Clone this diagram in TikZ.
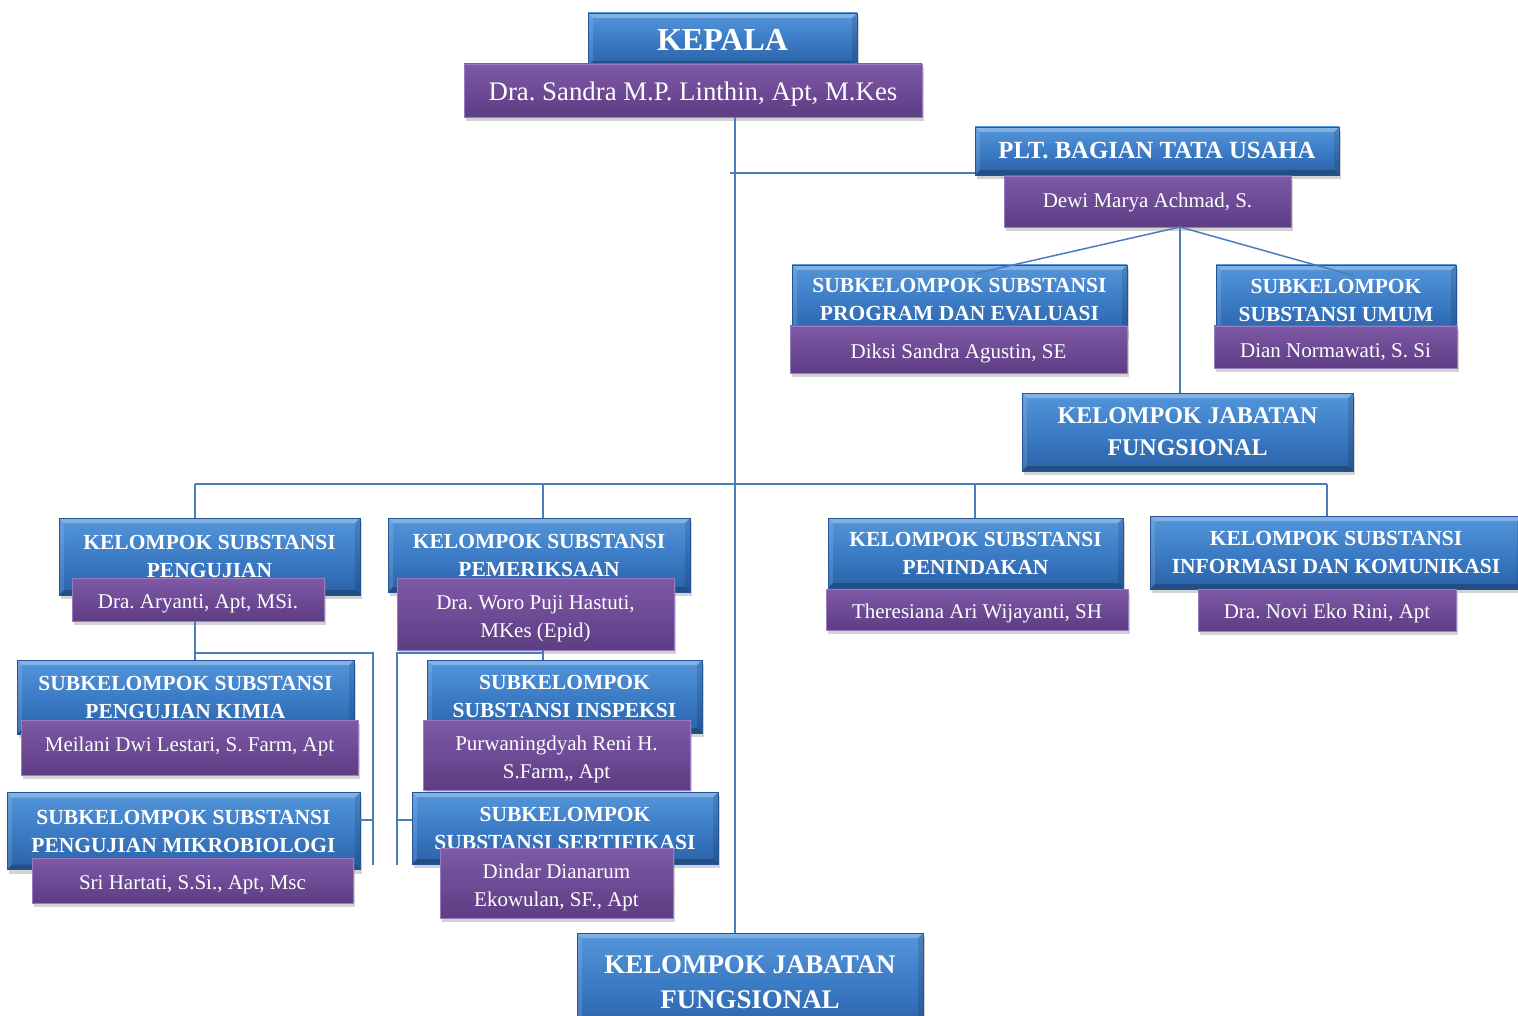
\documentclass[tikz,border=0pt]{standalone}
\usepackage{fontspec}
\setmainfont{Liberation Serif}
\usetikzlibrary{shadows}
\frenchspacing

\definecolor{biruatas}{RGB}{84,150,218}
\definecolor{birutengah}{RGB}{60,124,198}
\definecolor{birubawah}{RGB}{42,98,168}
\definecolor{birutepi}{RGB}{36,84,148}
\definecolor{unguatas}{RGB}{127,89,167}
\definecolor{ungubawah}{RGB}{93,61,131}
\definecolor{ungutepi}{RGB}{152,124,192}
\definecolor{garis}{RGB}{74,126,187}

\newcommand{\huruf}[2]{\fontsize{#1}{#2}\selectfont}
\newcommand{\bevelkotak}{%
  \fill[white,opacity=.28] (path picture bounding box.north west) -- (path picture bounding box.north east)
    -- ([shift={(-5pt,-5pt)}]path picture bounding box.north east) -- ([shift={(5pt,-5pt)}]path picture bounding box.north west) -- cycle;
  \fill[white,opacity=.12] (path picture bounding box.north west) -- ([shift={(5pt,-5pt)}]path picture bounding box.north west)
    -- ([shift={(5pt,5pt)}]path picture bounding box.south west) -- (path picture bounding box.south west) -- cycle;
  \fill[black,opacity=.12] (path picture bounding box.north east) -- ([shift={(-5pt,-5pt)}]path picture bounding box.north east)
    -- ([shift={(-5pt,5pt)}]path picture bounding box.south east) -- (path picture bounding box.south east) -- cycle;
  \fill[black,opacity=.22] (path picture bounding box.south west) -- (path picture bounding box.south east)
    -- ([shift={(-5pt,5pt)}]path picture bounding box.south east) -- ([shift={(5pt,5pt)}]path picture bounding box.south west) -- cycle;}

\begin{document}
\frenchspacing
\begin{tikzpicture}[x=1pt,y=-1pt, ukuran/.style 2 args={minimum width=#1pt,minimum height=#2pt}]
\clip (0,0) rectangle (1518,1016);
\begin{scope}
	\tikzstyle{jabatan}=[draw=birutepi, line width=0.8pt, top color=biruatas, bottom color=birubawah, middle color=birutengah, text=white, align=center, inner sep=0pt, font=\bfseries\huruf{21.5}{28}, drop shadow={shadow xshift=2pt, shadow yshift=-4pt, opacity=.35}, path picture={\bevelkotak}]
	\tikzstyle{pejabat}=[draw=ungutepi, line width=0.8pt, top color=unguatas, bottom color=ungubawah, text=white, align=center, inner sep=0pt, font=\huruf{21}{28}, text height=22pt, text depth=4.2pt, drop shadow={shadow xshift=2pt, shadow yshift=-4pt, opacity=.35}]
	\tikzstyle{pejabatdua}=[pejabat, text height=50pt, text depth=4pt]
	\tikzstyle{hubung}=[draw=garis, line width=1.5pt]

	% kepala
	\node[jabatan, ukuran={269}{53}, font=\bfseries\huruf{32}{36}] (kepala) at (722.5,39.5) {KEPALA};
	\node[pejabat, ukuran={458}{53}, font=\huruf{26.8}{32}, text height=25pt, text depth=4.4pt] (kepalaNm) at (693,90.5) {Dra. Sandra M.P. Linthin, Apt, M.Kes};

	% tata usaha
	\node[jabatan, ukuran={364}{48}, font=\bfseries\huruf{24.7}{28}] (tu) at (1157,151) {PLT. BAGIAN TATA USAHA};
	\node[pejabat, ukuran={287}{51}, text depth=10.2pt] (tuNm) at (1147.5,201.5) {Dewi Marya Achmad, S.};
	\node[jabatan, ukuran={335}{70}] (prog) at (959.5,300) {SUBKELOMPOK SUBSTANSI\\PROGRAM DAN EVALUASI};
	\node[pejabat, ukuran={337}{47}] (progNm) at (958.5,349.5) {Diksi Sandra Agustin, SE};
	\node[jabatan, ukuran={240}{70}] (umum) at (1336,300) {SUBKELOMPOK\\SUBSTANSI UMUM};
	\node[pejabat, ukuran={243}{42}, text depth=1pt] (umumNm) at (1335.5,347) {Dian Normawati, S. Si};
	\node[jabatan, ukuran={331}{78}, font=\bfseries\huruf{24}{32}] (jfTU) at (1187.5,432) {KELOMPOK JABATAN\\FUNGSIONAL};

	% kelompok substansi
	\node[jabatan, ukuran={301}{77}] (uji) at (209.5,556.5) {KELOMPOK SUBSTANSI\\PENGUJIAN};
	\node[pejabat, ukuran={252}{43}] (ujiNm) at (198,599.5) {Dra. Aryanti, Apt, MSi.};
	\node[jabatan, ukuran={302}{74}] (periksa) at (539,555) {KELOMPOK SUBSTANSI\\PEMERIKSAAN};
	\node[pejabatdua, ukuran={277}{72}] (periksaNm) at (535.5,614) {Dra. Woro Puji Hastuti,\\MKes (Epid)};
	\node[jabatan, ukuran={295}{70}] (tindak) at (975.5,553) {KELOMPOK SUBSTANSI\\PENINDAKAN};
	\node[pejabat, ukuran={302}{41}] (tindakNm) at (977,609.5) {Theresiana Ari Wijayanti, SH};
	\node[jabatan, ukuran={372}{73}] (infokom) at (1336,552.5) {KELOMPOK SUBSTANSI\\INFORMASI DAN KOMUNIKASI};
	\node[pejabat, ukuran={258}{42}] (infokomNm) at (1327,610) {Dra. Novi Eko Rini, Apt};

	% subkelompok
	\node[jabatan, ukuran={337}{74}] (kimia) at (185.5,697) {SUBKELOMPOK SUBSTANSI\\PENGUJIAN KIMIA};
	\node[pejabat, ukuran={337}{55}, text depth=14.2pt] (kimiaNm) at (189.5,747.5) {Meilani Dwi Lestari, S. Farm, Apt};
	\node[jabatan, ukuran={353}{77}] (mikro) at (183.5,831) {SUBKELOMPOK SUBSTANSI\\PENGUJIAN MIKROBIOLOGI};
	\node[pejabat, ukuran={321}{45}] (mikroNm) at (192.5,880.5) {Sri Hartati, S.Si., Apt, Msc};
	\node[jabatan, ukuran={275}{73}] (inspeksi) at (564.5,696.5) {SUBKELOMPOK\\SUBSTANSI INSPEKSI};
	\node[pejabatdua, ukuran={267}{70}] (inspeksiNm) at (556.5,755) {Purwaningdyah Reni H.\\S.Farm,, Apt};
	\node[jabatan, ukuran={306}{72}] (sertif) at (565,828) {SUBKELOMPOK\\SUBSTANSI SERTIFIKASI};
	\node[pejabatdua, ukuran={233}{70}] (sertifNm) at (556.5,883) {Dindar Dianarum\\Ekowulan, SF., Apt};

	\node[jabatan, ukuran={346}{98}, font=\bfseries\huruf{26.9}{35}] (jf) at (750,982) {KELOMPOK JABATAN\\FUNGSIONAL};

	% garis
	\coordinate (poros) at (735,484);
	\coordinate (tUji) at (195,484);
	\coordinate (tPeriksa) at (543,484);
	\coordinate (tTindak) at (975,484);
	\coordinate (tInfo) at (1327,484);
	\coordinate (cabangTU) at (1180,227);
	\coordinate (jUji) at (373,653);
	\coordinate (jPeriksa) at (397,653);
	\coordinate (tuKiri) at ([yshift=-22pt]tu.west);
	\coordinate (mikroKanan) at ([yshift=11pt]mikro.east);
	\coordinate (sertifKiri) at ([yshift=8pt]sertif.west);

	\draw [hubung] (kepalaNm.south -| poros) -- (jf.north -| poros);
	\draw [hubung] (tuKiri) -- ([xshift=-5pt]tuKiri -| poros);
	\draw [hubung] (cabangTU) -- ([xshift=15.5pt,yshift=-9pt]prog.north);
	\draw [hubung] (cabangTU) -- ([xshift=17pt,yshift=-11pt]umum.north);
	\draw [hubung] (cabangTU) -- (cabangTU |- jfTU.north);

	\draw [hubung] (tUji) -- (tInfo);
	\draw [hubung] (tUji) -- (tUji |- uji.north);
	\draw [hubung] (tPeriksa) -- (tPeriksa |- periksa.north);
	\draw [hubung] (tTindak) -- (tTindak |- tindak.north);
	\draw [hubung] (tInfo) -- (tInfo |- infokom.north);

	\draw [hubung] (tUji |- ujiNm.south) -- (tUji |- kimia.north);
	\draw [hubung] (tUji |- jUji) -- (jUji) -- ++(0,212);
	\draw [hubung] (mikroKanan) -- (mikroKanan -| jUji);
	\draw [hubung] (tPeriksa |- periksaNm.south) -- (tPeriksa |- inspeksi.north);
	\draw [hubung] (tPeriksa |- jPeriksa) -- (jPeriksa) -- ++(0,212);
	\draw [hubung] (sertifKiri) -- (sertifKiri -| jPeriksa);
\end{scope}
\end{tikzpicture}
\end{document}
